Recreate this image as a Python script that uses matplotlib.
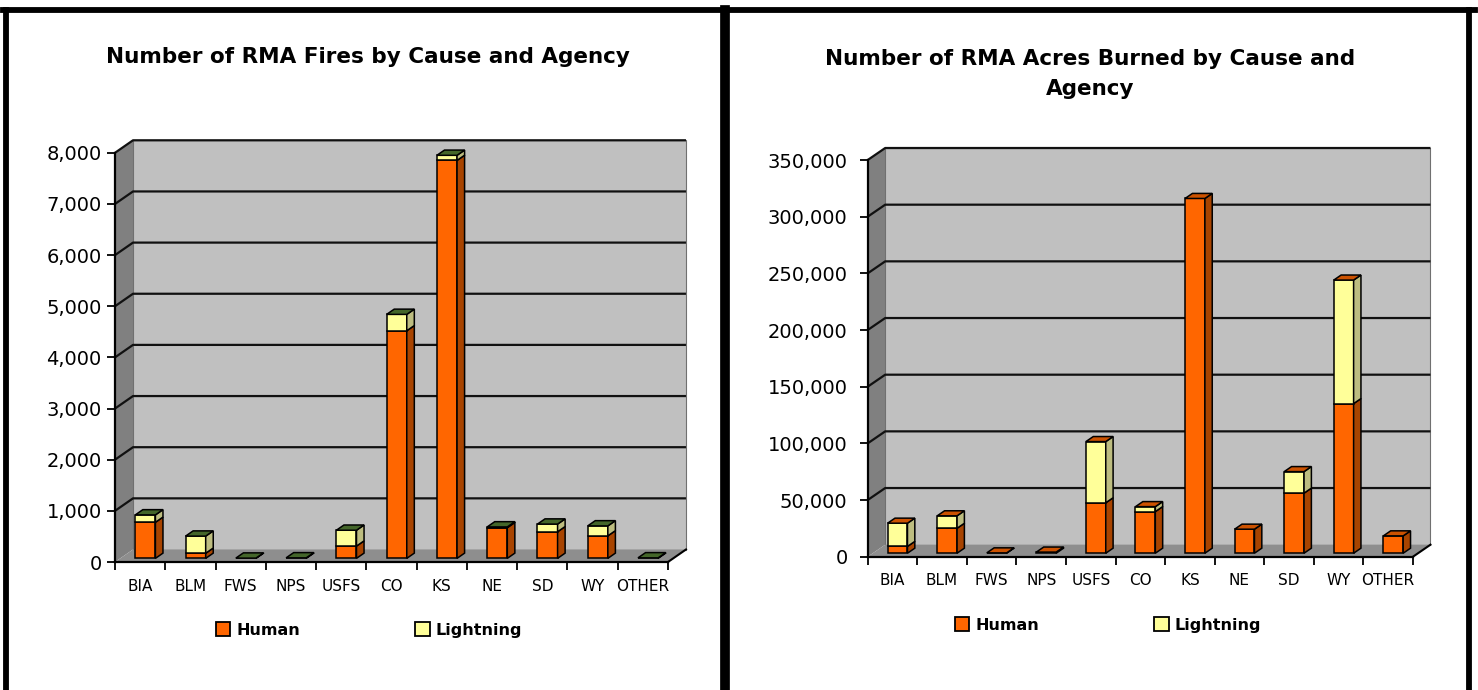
"""RMA fires / acres burned by cause and agency - 3D-look stacked columns."""
import numpy as np
import matplotlib
matplotlib.use("Agg")
import matplotlib.pyplot as plt
from matplotlib.patches import Polygon, Patch
from matplotlib.lines import Line2D

W, H = 1478, 690
plt.rcParams.update({"font.family": ["DejaVu Sans"], "font.size": 11})

AGENCIES = ["BIA", "BLM", "FWS", "NPS", "USFS", "CO", "KS", "NE", "SD", "WY", "OTHER"]
# number of fires
fires_human = [705, 100, 0, 0, 240, 4450, 7780, 600, 520, 440, 0]
fires_lightning = [145, 335, 5, 10, 310, 320, 100, 15, 150, 195, 10]
# acres burned
acres_human = [6000, 22000, 300, 1000, 44500, 36700, 313000, 21200, 53000, 132000, 15300]
acres_lightning = [20500, 11000, 0, 0, 54000, 4400, 0, 0, 19000, 109000, 0]

ORANGE, ORANGE_SIDE = "#FF6600", "#A84400"
YELLOW, YELLOW_SIDE = "#FFFF99", "#BDBD80"
WALL, SIDEWALL, FLOOR = "#C0C0C0", "#808080", "#8E8E8E"

fig = plt.figure(figsize=(W / 100, H / 100), dpi=100)


def chart(human, lightning, x0, y0, px_cat, px_unit, ddx, ddy, ymax, step, top_color, ypad):
    n = len(AGENCIES)
    dx = ddx / px_cat            # depth offset in category units
    dy = ddy / px_unit           # depth offset in value units
    ytop = ymax + dy
    ax = fig.add_axes([x0 / W, 1 - y0 / H, (n + dx) * px_cat / W, ytop * px_unit / H])
    ax.set_xlim(0, n + dx)
    ax.set_ylim(0, ytop)
    ax.patch.set_alpha(0)

    # walls and floor
    ax.add_patch(Polygon([(0, 0), (dx, dy), (dx, ytop), (0, ymax)], closed=True,
                         fc=SIDEWALL, ec="none", zorder=1, clip_on=False))
    ax.add_patch(Polygon([(dx, dy), (n + dx, dy), (n + dx, ytop), (dx, ytop)], closed=True,
                         fc=WALL, ec="#707070", lw=0.8, zorder=1, clip_on=False))
    ax.add_patch(Polygon([(0, 0), (n, 0), (n + dx, dy), (dx, dy)], closed=True,
                         fc=FLOOR, ec="none", zorder=1.5, clip_on=False))
    ticks = np.arange(0, ymax + step / 2, step)
    for v in ticks[1:]:
        ax.plot([0, dx, n + dx], [v, v + dy, v + dy], color="#111111", lw=1.6,
                zorder=2, clip_on=False, solid_capstyle="butt")
    ax.plot([n, n + dx], [0, dy], color="black", lw=1.5, zorder=2, clip_on=False)

    # bars: front face, side face, top face
    hum = np.array(human, float)
    lig = np.array(lightning, float)
    w, f0, f1 = 0.40, 0.29, 0.71
    sx, sy = (f1 - f0) * dx, (f1 - f0) * dy
    base = f0 * dy
    for i in range(n):
        xa = i + 0.5 - w / 2 + f0 * dx
        xb = xa + w
        for lo, hi, fc, sc in [(0, hum[i], ORANGE, ORANGE_SIDE),
                               (hum[i], hum[i] + lig[i], YELLOW, YELLOW_SIDE)]:
            if hi <= lo:
                continue
            ax.add_patch(Polygon([(xa, lo + base), (xb, lo + base), (xb, hi + base), (xa, hi + base)],
                                 closed=True, fc=fc, ec="black", lw=1.1, zorder=3))
            ax.add_patch(Polygon([(xb, lo + base), (xb + sx, lo + base + sy),
                                  (xb + sx, hi + base + sy), (xb, hi + base)],
                                 closed=True, fc=sc, ec="black", lw=1.1, zorder=3))
        t = hum[i] + lig[i] + base
        ax.add_patch(Polygon([(xa, t), (xb, t), (xb + sx, t + sy), (xa + sx, t + sy)],
                             closed=True, fc=top_color, ec="black", lw=1.1, zorder=3.5))

    # axes
    for s in ("top", "right"):
        ax.spines[s].set_visible(False)
    ax.spines["left"].set_bounds(0, ymax)
    ax.spines["bottom"].set_bounds(0, n)
    for s in ("left", "bottom"):
        ax.spines[s].set_linewidth(1.6)
        ax.spines[s].set_zorder(4)
    ax.set_yticks(ticks)
    ax.set_yticklabels([f"{int(v):,}" for v in ticks], fontsize=14)
    ax.set_xticks(np.arange(n + 1))
    ax.set_xticklabels([])
    ax.set_xticks(np.arange(n) + 0.5, minor=True)
    ax.set_xticklabels(AGENCIES, minor=True, fontsize=11)
    ax.tick_params(axis="both", which="major", length=5.5, width=1.3, direction="out")
    ax.tick_params(axis="y", pad=ypad)
    ax.tick_params(axis="x", which="minor", length=0, pad=12)

    leg = ax.legend(handles=[Patch(fc=ORANGE, ec="black", lw=1.3, label="Human"),
                             Patch(fc=YELLOW, ec="black", lw=1.3, label="Lightning")],
                    loc="center", ncol=2, frameon=False,
                    handlelength=0.9, handleheight=0.9, handletextpad=0.4, columnspacing=7.2,
                    prop={"weight": "bold", "size": 11.5})
    return ax, leg


ax1, leg1 = chart(fires_human, fires_lightning, 115, 562, 50.27, 51.15 / 1000, 18, 12.5,
                  8000, 1000, "#44662A", 4)
leg1.set_bbox_to_anchor((369 / W, 1 - 630 / H), transform=fig.transFigure)
fig.text(368 / W, 1 - 57 / H, "Number of RMA Fires by Cause and Agency",
         ha="center", va="center", fontsize=15.5, fontweight="bold")

ax2, leg2 = chart(acres_human, acres_lightning, 867.7, 556.7, 49.57, 56.67 / 50000, 17.5, 12,
                  350000, 50000, "#CC5200", 9)
leg2.set_bbox_to_anchor((1108 / W, 1 - 625 / H), transform=fig.transFigure)
fig.text(1090 / W, 1 - 74 / H, "Number of RMA Acres Burned by Cause and\nAgency",
         ha="center", va="center", fontsize=15.5, fontweight="bold", linespacing=1.6)

# panel borders
for xs, ys, lw in [([6, 6], [9.5, H], 4.2), ([3, 1475], [9.5, 9.5], 4.2),
                   ([725, 725], [9.5, H], 7), ([1469, 1469], [9.5, H], 4.2)]:
    fig.add_artist(Line2D([x / W for x in xs], [1 - y / H for y in ys], color="black",
                          lw=lw, transform=fig.transFigure))

fig.savefig("out.png", dpi=100, facecolor="white")
